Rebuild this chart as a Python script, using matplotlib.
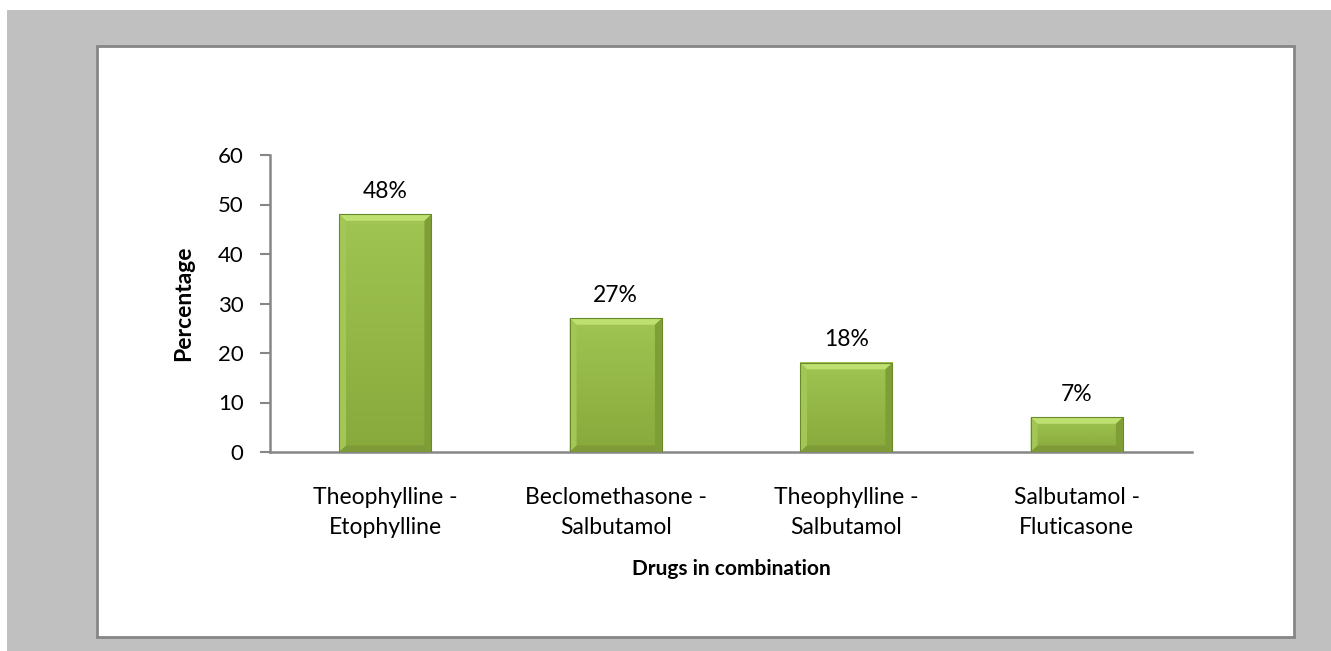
import numpy as np
import matplotlib
matplotlib.use("Agg")
import matplotlib.pyplot as plt
from matplotlib.patches import Rectangle, Polygon

plt.rcParams['font.family'] = ['Lato', 'DejaVu Sans']

# datos del grafico
combinaciones = ['Theophylline -\nEtophylline', 'Beclomethasone -\nSalbutamol',
                 'Theophylline -\nSalbutamol', 'Salbutamol -\nFluticasone']
porcentajes = [48, 27, 18, 7]
etiquetas = ['48%', '27%', '18%', '7%']
ticks_y = [0, 10, 20, 30, 40, 50, 60]

fig = plt.figure(figsize=(13.31, 6.51), dpi=100)
fig.patch.set_facecolor('white')

# fondo gris y recuadro blanco
fig.patches.append(Rectangle((7/1331, 0), 1 - 7/1331, 1 - 10/651, transform=fig.transFigure,
                             facecolor='#c0c0c0', edgecolor='none', zorder=-3))
fig.patches.append(Rectangle((97/1331, 1 - 637/651), (1294 - 97)/1331, (637 - 46)/651,
                             transform=fig.transFigure, facecolor='white',
                             edgecolor='#868686', linewidth=2, zorder=-2))

ax = fig.add_axes([270/1331, 199/651, 922/1331, 297/651])
ax.set_facecolor('none')
ax.set_xlim(-0.5, 3.5)
ax.set_ylim(0, 60)

ancho = 0.4
bx = 0.03   # bisel horizontal (unidades de x)
by = 1.3    # bisel vertical (unidades de y)
grad = np.linspace(0, 1, 100).reshape(-1, 1)
cmap = matplotlib.colors.LinearSegmentedColormap.from_list('verde', ['#88a93c', '#a0c552'])

for i, v in enumerate(porcentajes):
    x0, x1 = i - ancho/2, i + ancho/2
    # relleno con degradado
    ax.imshow(grad, extent=(x0, x1, 0, v), origin='lower', aspect='auto', cmap=cmap, zorder=2)
    # bordes biselados
    ax.add_patch(Polygon([(x0, v), (x1, v), (x1 - bx, v - by), (x0 + bx, v - by)],
                         facecolor='#bde071', edgecolor='none', zorder=3))
    ax.add_patch(Polygon([(x0, v), (x0 + bx, v - by), (x0 + bx, by), (x0, 0)],
                         facecolor='#a3c757', edgecolor='none', zorder=3))
    ax.add_patch(Polygon([(x1, v), (x1 - bx, v - by), (x1 - bx, by), (x1, 0)],
                         facecolor='#7f9e35', edgecolor='none', zorder=3))
    ax.add_patch(Polygon([(x0, 0), (x1, 0), (x1 - bx, by), (x0 + bx, by)],
                         facecolor='#7e9b38', edgecolor='none', zorder=3))
    ax.add_patch(Rectangle((x0, 0), ancho, v, facecolor='none', edgecolor='#6a8a2a',
                           linewidth=0.8, zorder=4))
    ax.annotate(etiquetas[i], (i, v), xytext=(0, 16.5), textcoords='offset points',
                ha='center', va='center', fontsize=16.5, color='black')

ax.set_yticks(ticks_y)
ax.set_yticklabels([str(t) for t in ticks_y], fontsize=16)
ax.set_xticks(range(len(combinaciones)))
ax.set_xticklabels(combinaciones, fontsize=16.5, linespacing=1.55)
ax.tick_params(axis='x', length=0, pad=25)
ax.tick_params(axis='y', length=7, width=1.5, color='#868686', pad=12)

for lado in ['top', 'right']:
    ax.spines[lado].set_visible(False)
for lado in ['left', 'bottom']:
    ax.spines[lado].set_color('#868686')
    ax.spines[lado].set_linewidth(1.8)

ax.set_xlabel('Drugs in combination', fontsize=15, fontweight='bold', labelpad=15)
ax.set_ylabel('Percentage', fontsize=16.5, fontweight='bold', labelpad=17)

plt.savefig('out.png', dpi=100)
